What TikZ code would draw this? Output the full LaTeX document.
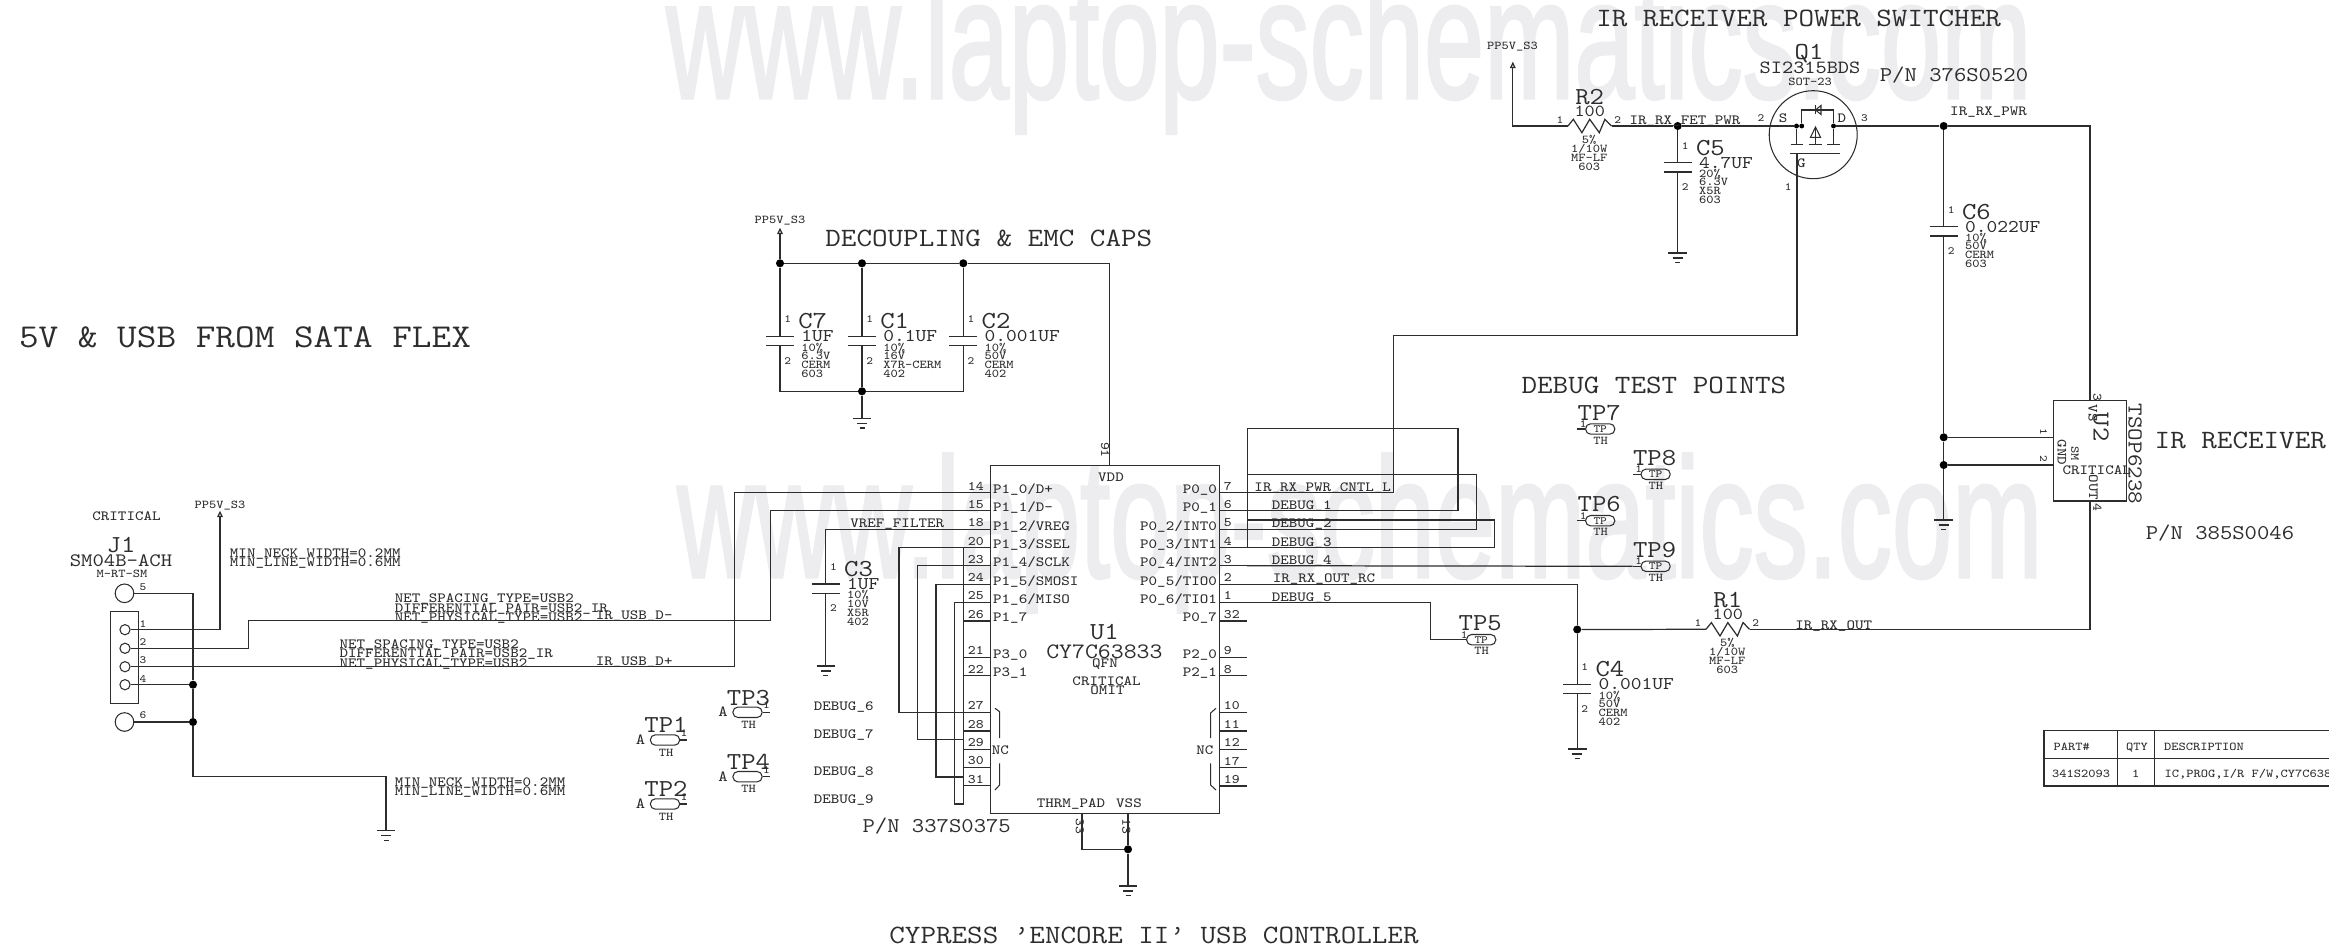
\documentclass[tikz,border=0pt]{standalone}
\usepackage{fontspec}
\newfontfamily\wmarkfont{Liberation Sans}[FakeBold=2]
\setmonofont{Latin Modern Mono}[FakeStretch=1.143]
\usepackage{tikz}
\usetikzlibrary{arrows.meta}
\definecolor{wmarkc}{RGB}{237,237,240}
\definecolor{inkc}{RGB}{45,45,45}
\tikzset{
    sz/.style={font=\ttfamily\fontsize{#1}{#1}\selectfont, inner sep=0pt, text height=0.6*#1pt, text depth=0pt, text=inkc},
    headtxt/.style={sz=15.05},
    pntxt/.style={sz=11.95},
    reftxt/.style={sz=13.9},
    valtxt/.style={sz=10.2},
    nettxt/.style={sz=8},
    pintxt/.style={sz=7.4},
    subtxt/.style={sz=6.8},
    numtxt/.style={sz=6.3},
    wmark/.style={font=\wmarkfont\fontsize{97}{97}\selectfont, inner sep=0pt, text=wmarkc, xscale=0.635, transform shape, anchor=base west},
    wire/.style={line width=0.7pt, draw=inkc},
    outline/.style={line width=0.6pt, draw=inkc},
    pwrtip/.style={-{Triangle[open,length=3.6pt,width=3.2pt]}},
    dot/.style={circle, fill=black, inner sep=0pt, minimum size=4.6pt},
    smalldot/.style={circle, fill=black, inner sep=0pt, minimum size=2.8pt},
    padsym/.style={circle, draw=inkc, line width=0.6pt, inner sep=0pt, minimum size=10.6pt},
    holesym/.style={circle, draw=inkc, line width=0.6pt, inner sep=0pt, minimum size=5.8pt},
    tpoval/.style={rectangle, draw=inkc, line width=0.6pt, rounded corners=2.8pt, inner sep=0pt, minimum width=16.6pt, minimum height=5.9pt, sz=6.3},
    gnd/.pic={
        \draw[wire] (-9.3,0) -- (9.3,0);
        \draw[wire] (-5,5) -- (5,5);
        \draw[wire] (-2.5,9.7) -- (2.5,9.7);
    },
}
\begin{document}
\begin{tikzpicture}[x=0.02cm, y=-0.02cm]
    \useasboundingbox (0,0) rectangle (2329,949);

    % Watermarks
    \node[wmark] (wmarktop) at (666,98) {www.laptop-schematics.com};
    \node[wmark] (wmarkbot) at (677,577) {www.laptop-schematics.com};

    % Headings
    \node[sz=19] (headsata) at (245,337) {5V \& USB FROM SATA FLEX};
    \node[headtxt] (headcaps) at (988.8,239) {DECOUPLING \& EMC CAPS};
    \node[headtxt] (headpower) at (1798.6,18.3) {IR RECEIVER POWER SWITCHER};
    \node[headtxt] (headdebug) at (1653.9,385.7) {DEBUG TEST POINTS};
    \node[headtxt] (headrecv) at (2240.3,440.7) {IR RECEIVER};
    \node[headtxt] (headusb) at (1154,936) {CYPRESS ’ENCORE II’ USB CONTROLLER};
    \node[pntxt] (pnu1) at (936.7,825.7) {P/N 337S0375};
    \node[pntxt] (pnq1) at (1954,75) {P/N 376S0520};
    \node[pntxt] (pnu2) at (2220,533) {P/N 385S0046};

    % Named points for the wires
    \coordinate (ppj1) at (220,510.7);
    \coordinate (ppdec) at (780,227.7);
    \coordinate (ppq1) at (1512.8,61.7);
    \coordinate (usbmb) at (248.5,620.7);
    \coordinate (usbmc) at (770.4,620.7);
    \coordinate (usbpb) at (734.7,580);
    \coordinate (j1bend) at (193,776.7);
    \coordinate (gndj1) at (386,830.7);
    \coordinate (gndc1) at (862,418.3);
    \coordinate (gndc3) at (825.8,666);
    \coordinate (gndu1) at (1128,886);
    \coordinate (gndc5) at (1677.7,253);
    \coordinate (gndu2) at (1943.7,520);
    \coordinate (gndc4) at (1577.2,749);
    \coordinate (vddpin) at (1109.5,465.3);
    \coordinate (thrmpin) at (1082,813.3);
    \coordinate (vsspin) at (1128,813.3);
    \coordinate (gatebend) at (1393.7,335.6);
    \coordinate (gatepin) at (1797,153.7);
    \coordinate (db1top) at (1458,428.3);
    \coordinate (db1end) at (1247.3,547.7);
    \coordinate (db2top) at (1476.7,474.3);
    \coordinate (db2end) at (1247.3,474.3);
    \coordinate (db3top) at (1494.3,520);
    \coordinate (db3end) at (1247.3,520);
    \coordinate (tp5bend) at (1430.7,639.7);
    \coordinate (u2top) at (2090,400.7);
    \coordinate (u2bot) at (2090,501);
    \coordinate (u2pina) at (2053.7,437.3);
    \coordinate (u2pinb) at (2053.7,465);

    % Junction dots
    \foreach \jname/\jx/\jy in {dotj4/193/684.7, dotj6/193/722, dotc7/780/263.3, dotc1/862/263.3, dotc2/963.3/263.3, dotcb/862/391.3, dotvss/1128/849.3, dotr1/1577.2/629.5, dotc5/1677.7/126, dotc6/1943.7/126, dotu2a/1943.7/437.3, dotu2b/1943.7/465} {
        \node[dot] (\jname) at (\jx,\jy) {};
    }

    % J1 connector
    \draw[outline] (110.7,611.7) rectangle (138.3,703.3);
    \node[padsym] (j1m5) at (124.5,593.3) {};
    \node[padsym] (j1m6) at (124.5,722) {};
    \foreach \pinid/\py in {1/629.7, 2/648.3, 3/666.7, 4/684.7} {
        \node[holesym] (j1c\pinid) at (125,\py) {};
    }
    \foreach \pinid/\py in {5/586.7, 1/624, 2/642, 3/660, 4/679, 6/715} {
        \node[numtxt] (j1n\pinid) at (143,\py) {\pinid};
    }
    \node[nettxt] (j1crit) at (126.5,516.7) {CRITICAL};
    \node[reftxt] (j1ref) at (121,545) {J1};
    \node[sz=10.8] (j1part) at (121,561.3) {SM04B-ACH};
    \node[subtxt] (j1foot) at (122,574.3) {M-RT-SM};
    \node[subtxt] (ppj1txt) at (220,505) {PP5V\_S3};

    % J1 net properties
    \foreach \tname/\tx/\ty/\ttext in {
        nta/229.6/553.3/MIN\_NECK\_WIDTH=0.2MM, ntb/229.6/562.3/MIN\_LINE\_WIDTH=0.6MM,
        ntc/394.4/598.7/NET\_SPACING\_TYPE=USB2, ntd/394.4/608.3/DIFFERENTIAL\_PAIR=USB2\_IR,
        nte/394.4/617.3/NET\_PHYSICAL\_TYPE=USB2, ntf/595.4/615.7/IR\_USB\_D-,
        ntg/339.3/644.7/NET\_SPACING\_TYPE=USB2, nth/339.3/653.7/DIFFERENTIAL\_PAIR=USB2\_IR,
        nti/339.3/663.3/NET\_PHYSICAL\_TYPE=USB2, ntj/595.4/661.7/IR\_USB\_D+,
        ntk/394.4/782.7/MIN\_NECK\_WIDTH=0.2MM, ntl/394.4/791.7/MIN\_LINE\_WIDTH=0.6MM} {
        \node[nettxt, anchor=west] (\tname) at (\tx,\ty) {\ttext};
    }

    % Capacitors
    \foreach \cname/\cx/\cy/\cval/\ca/\cb/\cc/\cd in {
        C7/780/336.3/1UF/10\%/6.3V/CERM/603,
        C1/862/336.3/0.1UF/10\%/16V/X7R-CERM/402,
        C2/963.3/336.3/0.001UF/10\%/50V/CERM/402,
        C3/825.8/584/1UF/10\%/10V/X5R/402,
        C5/1677.7/162.7/4.7UF/20\%/6.3V/X5R/603,
        C6/1943.7/226.7/0.022UF/10\%/50V/CERM/603,
        C4/1577.2/684.3/0.001UF/10\%/50V/CERM/402} {
        \coordinate (\cname top) at (\cx,\cy);
        \coordinate (\cname bot) at (\cx,\cy+9.3);
        \draw[wire] ([xshift=-0.28cm]\cname top) -- ([xshift=0.28cm]\cname top);
        \draw[wire] ([xshift=-0.28cm]\cname bot) -- ([xshift=0.28cm]\cname bot);
        \node[numtxt] (\cname na) at (\cx+7.6,\cy-17) {1};
        \node[numtxt] (\cname nb) at (\cx+7.6,\cy+24.5) {2};
        \node[reftxt, anchor=west] (\cname ref) at (\cx+18,\cy-15) {\cname};
        \node[valtxt, anchor=west] (\cname val) at (\cx+21,\cy+0.3) {\cval};
        \node[subtxt, anchor=west] (\cname ta) at (\cx+21,\cy+11.3) {\ca};
        \node[subtxt, anchor=west] (\cname tb) at (\cx+21,\cy+19.6) {\cb};
        \node[subtxt, anchor=west] (\cname tc) at (\cx+21,\cy+28.7) {\cc};
        \node[subtxt, anchor=west] (\cname td) at (\cx+21,\cy+37.7) {\cd};
    }

    % Decoupling wires
    \node[subtxt] (ppdectxt) at (780,220) {PP5V\_S3};
    \draw[wire, pwrtip] (dotc7) -- (ppdec);
    \draw[wire] (dotc7) -- (dotc1) -- (dotc2) -| (vddpin);
    \draw[wire] (dotc7) -- (C7top);
    \draw[wire] (dotc1) -- (C1top);
    \draw[wire] (dotc2) -- (C2top);
    \draw[wire] (C7bot) |- (dotcb);
    \draw[wire] (C2bot) |- (dotcb);
    \draw[wire] (C1bot) -- (dotcb) -- (gndc1);
    \pic at (gndc1) {gnd};

    % U1 body
    \draw[outline] (990.5,465.3) rectangle (1219.6,813.3);
    \node[reftxt] (u1ref) at (1104.4,632.3) {U1};
    \node[sz=12.5] (u1part) at (1104.4,651.7) {CY7C63833};
    \node[nettxt] (u1pack) at (1105,663.7) {QFN};
    \node[nettxt] (u1crit) at (1106.6,681.7) {CRITICAL};
    \node[nettxt] (u1omit) at (1107.5,690.7) {OMIT};
    \node[nettxt] (u1vdd) at (1111,477.3) {VDD};
    \node[nettxt] (u1thrm) at (1071,803.3) {THRM\_PAD};
    \node[nettxt] (u1vss) at (1129,803.3) {VSS};
    \node[pintxt, rotate=-90] (u1n91) at (1105,450) {91};
    \node[pintxt, rotate=-90] (u1n33) at (1079.8,826) {33};
    \node[pintxt, rotate=-90] (u1n13) at (1126.3,826) {13};

    % U1 left pins
    \foreach \pinid/\plab/\py in {
        14/{P1\_0/D+}/492.7, 15/{P1\_1/D-}/510.7, 18/{P1\_2/VREG}/529.3, 20/{P1\_3/SSEL}/547.7,
        23/{P1\_4/SCLK}/565.7, 24/{P1\_5/SMOSI}/584.3, 25/{P1\_6/MISO}/602.3, 26/{P1\_7}/621,
        21/{P3\_0}/657.3, 22/{P3\_1}/675.7, 27/{}/712.3, 28/{}/731, 29/{}/749.3, 30/{}/767.3, 31/{}/785.7} {
        \coordinate (pin\pinid) at (963.8,\py);
        \draw[wire] (pin\pinid) -- (990.5,\py);
        \node[pintxt] (pinn\pinid) at (975.8,\py-6.5) {\pinid};
        \node[nettxt, anchor=west] (pinl\pinid) at (992.8,\py-3.5) {\plab};
    }

    % U1 right pins
    \foreach \pinid/\plab/\py in {
        7/{P0\_0}/492.7, 6/{P0\_1}/510.7, 5/{P0\_2/INT0}/529.3, 4/{P0\_3/INT1}/547.7,
        3/{P0\_4/INT2}/565.7, 2/{P0\_5/TIO0}/584.3, 1/{P0\_6/TIO1}/602.3, 32/{P0\_7}/621,
        9/{P2\_0}/657.3, 8/{P2\_1}/675.7, 10/{}/712.3, 11/{}/731, 12/{}/749.3, 17/{}/767.7, 19/{}/786} {
        \coordinate (pin\pinid) at (1247.2,\py);
        \draw[wire] (1219.6,\py) -- (pin\pinid);
        \node[pintxt, anchor=west] (pinn\pinid) at (1223.6,\py-6.5) {\pinid};
        \node[nettxt, anchor=east] (pinl\pinid) at (1217.3,\py-3.5) {\plab};
    }

    % J1 wires
    \draw[wire, pwrtip] (j1c1) -| (ppj1);
    \draw[wire] (j1c2) -| (usbmb) -- (usbmc) |- (pin15);
    \draw[wire] (j1c3) -| (usbpb) |- (pin14);
    \draw[wire] (j1c4) -- (dotj4);
    \draw[wire] (j1m6) -- (dotj6);
    \draw[wire] (j1m5) -| (dotj4) -- (dotj6) -- (j1bend) -| (gndj1);
    \pic at (gndj1) {gnd};

    % NC brackets
    \draw[outline] (995,708.3) -- (999.6,711.7) -- (999.6,738);
    \draw[outline] (999.6,763.3) -- (999.6,785) -- (995,790);
    \draw[outline] (1216,708.3) -- (1210.6,713) -- (1210.6,738);
    \draw[outline] (1210.6,763.3) -- (1210.6,785) -- (1216,790);
    \node[nettxt] (ncleft) at (1000.3,750.7) {NC};
    \node[nettxt] (ncright) at (1204.8,750.7) {NC};

    % U1 ground and VREF
    \draw[wire] (thrmpin) |- (dotvss);
    \draw[wire] (vsspin) -- (dotvss) -- (gndu1);
    \pic at (gndu1) {gnd};
    \node[nettxt] (vreftxt) at (897.2,523.3) {VREF\_FILTER};
    \draw[wire] (pin18) -| (C3top);
    \draw[wire] (C3bot) -- (gndc3);
    \pic at (gndc3) {gnd};

    % Debug wires on the left
    \foreach \dnum/\dname/\dx/\dy/\dfrom in {6/a/899/712.3/20, 7/b/917.3/739.7/23, 8/c/936/777/24, 9/d/954.3/804/25} {
        \coordinate (db\dname) at (\dx,\dy);
        \coordinate (db\dname end) at (963.8,\dy);
        \draw[wire] (pin\dfrom) -| (db\dname) -- (db\dname end);
    }
    \draw[wire] (pin20) -- (dbdend);
    \foreach \dnum/\dy in {6/706.3, 7/734.3, 8/771.3, 9/799.3} {
        \node[nettxt] (dbgl\dnum) at (843.7,\dy) {DEBUG\_\dnum};
    }

    % Debug wires on the right
    \draw[wire] (pin7) -| (gatebend) -| (gatepin);
    \draw[wire] (pin6) -| (db1top) -| (db1end);
    \draw[wire] (pin5) -| (db2top) -- (db2end);
    \draw[wire] (pin4) -| (db3top) -- (db3end);
    \foreach \dnum/\dy in {1/505.3, 2/523.3, 3/542.3, 4/560.3, 5/597.3} {
        \node[nettxt] (dbgr\dnum) at (1301.7,\dy) {DEBUG\_\dnum};
    }
    \node[nettxt] (cntltxt) at (1322.7,487.3) {IR\_RX\_PWR\_CNTL\_L};
    \node[nettxt] (outrctxt) at (1324,578.7) {IR\_RX\_OUT\_RC};

    % Test points with the A mark
    \foreach \tpname/\tx/\ty in {TP1/665/740, TP2/665/804, TP3/747.5/712.3, TP4/747.5/776.7} {
        \node[tpoval] (\tpname) at (\tx,\ty) {};
        \coordinate (\tpname end) at (\tx+22.3,\ty);
        \draw[wire] (\tpname) -- (\tpname end);
        \node[reftxt] (\tpname ref) at (\tx+1,\ty-14.6) {\tpname};
        \node[sz=8.8] (\tpname a) at (\tx-24.5,\ty) {A};
        \node[subtxt] (\tpname th) at (\tx+1,\ty+12.5) {TH};
        \node[numtxt] (\tpname n) at (\tx+19,\ty-6.7) {1};
    }

    % Test points with TP in the oval
    \foreach \tpname/\tx/\ty in {TP7/1600.2/429, TP8/1655.6/474.3, TP6/1600.2/520.7, TP9/1655.6/566.3, TP5/1481.2/639.7} {
        \node[tpoval] (\tpname) at (\tx,\ty) {TP};
        \coordinate (\tpname end) at (\tx-23,\ty);
        \draw[wire] (\tpname) -- (\tpname end);
        \node[reftxt] (\tpname ref) at (\tx-1,\ty-16.3) {\tpname};
        \node[subtxt] (\tpname th) at (\tx+0.3,\ty+11.7) {TH};
        \node[numtxt] (\tpname n) at (\tx-17,\ty-5) {1};
    }
    \draw[wire] (pin3) -- (TP9end);
    \draw[wire] (pin1) -| (tp5bend) -- (TP5end);

    % Resistors
    \foreach \rname/\rx/\ry/\rref in {Ra/1567.9/126/R2, Rb/1706/629.3/R1} {
        \coordinate (\rname a) at (\rx,\ry);
        \coordinate (\rname b) at (\rx+43.6,\ry);
        \draw[wire] (\rname a) -- ++(5.4,-6.7) -- ++(8.6,13.4) -- ++(7.8,-13.4) -- ++(9.6,13.4) -- ++(5.6,-13.4) -- (\rname b);
        \node[reftxt] (\rname ref) at (\rx+21.8,\ry-29.3) {\rref};
        \node[sz=9.6] (\rname val) at (\rx+21.8,\ry-15) {100};
        \node[numtxt] (\rname na) at (\rx-8,\ry-5.7) {1};
        \node[numtxt] (\rname nb) at (\rx+49.7,\ry-5.7) {2};
        \node[subtxt] (\rname ta) at (\rx+21.3,\ry+13.7) {5\%};
        \node[subtxt] (\rname tb) at (\rx+21.3,\ry+22.7) {1/10W};
        \node[subtxt] (\rname tc) at (\rx+21.3,\ry+31.7) {MF-LF};
        \node[subtxt] (\rname td) at (\rx+21.3,\ry+40.7) {603};
    }

    % Q1 symbol
    \draw[outline] (1813.2,134.7) circle (44);
    \node[smalldot] (qsa) at (1796.5,126) {};
    \node[smalldot] (qsb) at (1801.7,126) {};
    \node[smalldot] (qd) at (1833.5,126) {};
    \coordinate (qbodya) at (1801.7,110);
    \coordinate (qbodyb) at (1833.5,110);
    \coordinate (qsplate) at (1796.5,144.3);
    \coordinate (qdplate) at (1833.5,144.3);
    \draw[outline] (qsb) -- (qbodya) -- (qbodyb) -- (qd);
    \draw[outline] (qsa) -- (qsplate);
    \draw[outline] (qd) -- (qdplate);
    \draw[outline] (1790.6,144.3) -- (1802.8,144.3);
    \draw[outline] (1809,144.3) -- (1822,144.3);
    \draw[outline] (1827,144.3) -- (1840.4,144.3);
    \draw[outline] (1789.8,153.7) -- (1840.4,153.7);
    \draw[outline] (1815.5,127) -- (1815.5,144.3);
    \draw[outline] (1810.5,137.3) -- (1815.5,127) -- (1820.5,137.3) -- cycle;
    \draw[outline] (1815.5,105.5) -- (1815.5,114.5);
    \draw[outline] (1821,105.5) -- (1815.5,110) -- (1821,114.5) -- cycle;
    \node[nettxt] (qs) at (1783,118.3) {S};
    \node[nettxt] (qdl) at (1841.9,118.3) {D};
    \node[nettxt] (qg) at (1801.3,163.3) {G};
    \node[numtxt] (qna) at (1788.3,186.7) {1};
    \node[numtxt] (qnb) at (1761,118.3) {2};
    \node[numtxt] (qnc) at (1864.5,118.3) {3};
    \node[reftxt] (q1ref) at (1809,51.7) {Q1};
    \node[sz=10.6] (q1part) at (1810,67.7) {SI2315BDS};
    \node[subtxt] (q1foot) at (1810,82) {SOT-23};

    % Power switch wires
    \node[subtxt] (ppq1txt) at (1512.4,45.7) {PP5V\_S3};
    \draw[wire, pwrtip] (Raa) -| (ppq1);
    \draw[wire] (Rab) -- (dotc5) -- (qsa);
    \draw[wire] (qd) -- (dotc6) -| (u2top);
    \draw[wire] (dotc5) -- (C5top);
    \draw[wire] (C5bot) -- (gndc5);
    \pic at (gndc5) {gnd};
    \draw[wire] (dotc6) -- (C6top);
    \draw[wire] (C6bot) -- (dotu2a) -- (dotu2b) -- (gndu2);
    \pic at (gndu2) {gnd};
    \draw[wire] (dotu2a) -- (u2pina);
    \draw[wire] (dotu2b) -- (u2pinb);
    \node[nettxt] (fettxt) at (1685,120.3) {IR\_RX\_FET\_PWR};
    \node[nettxt] (pwrtxt) at (1988.6,111.7) {IR\_RX\_PWR};

    % U2 receiver
    \draw[outline] (2053.7,400.7) rectangle (2126.7,501);
    \node[pintxt, rotate=-90] (u2n3) at (2097.3,397.3) {3};
    \node[nettxt, rotate=-90] (u2vs) at (2092.7,413.3) {VS};
    \node[reftxt, rotate=-90] (u2ref) at (2101,427.3) {U2};
    \node[sz=12.1, rotate=-90] (u2part) at (2135,454) {TSOP6238};
    \node[numtxt, rotate=-90] (u2n1) at (2043.3,431.7) {1};
    \node[numtxt, rotate=-90] (u2n2) at (2043.3,459.3) {2};
    \node[nettxt, rotate=-90] (u2gnd) at (2061.7,452.3) {GND};
    \node[subtxt, rotate=-90] (u2sm) at (2075,453.3) {SM};
    \node[nettxt] (u2crit) at (2096.7,470.3) {CRITICAL};
    \node[nettxt, rotate=-90] (u2out) at (2093.3,487.3) {OUT};
    \node[pintxt, rotate=-90] (u2n4) at (2097.3,507.3) {4};

    % Output wires
    \draw[wire] (pin2) -| (dotr1) -- (C4top);
    \draw[wire] (C4bot) -- (gndc4);
    \pic at (gndc4) {gnd};
    \draw[wire] (dotr1) -- (Rba);
    \draw[wire] (Rbb) -| (u2bot);
    \node[nettxt] (outtxt) at (1833.7,625.7) {IR\_RX\_OUT};

    % BOM table
    \draw[wire] (2329,730.7) -- (2044,730.7) -- (2044,786) -- (2329,786);
    \draw[wire] (2044,758.7) -- (2329,758.7);
    \draw[wire] (2117.7,730.7) -- (2117.7,786);
    \draw[wire] (2154.3,730.7) -- (2154.3,786);
    \node[subtxt] (bomparthd) at (2071.7,747) {PART\#};
    \node[subtxt] (bomqtyhd) at (2137,747) {QTY};
    \node[subtxt, anchor=west] (bomdeschd) at (2163.7,747) {DESCRIPTION};
    \node[subtxt] (bompart) at (2081,774) {341S2093};
    \node[subtxt] (bomqty) at (2135.7,774) {1};
    \node[subtxt, anchor=west] (bomdesc) at (2164.3,774) {IC,PROG,I/R F/W,CY7C638};
\end{tikzpicture}
\end{document}
